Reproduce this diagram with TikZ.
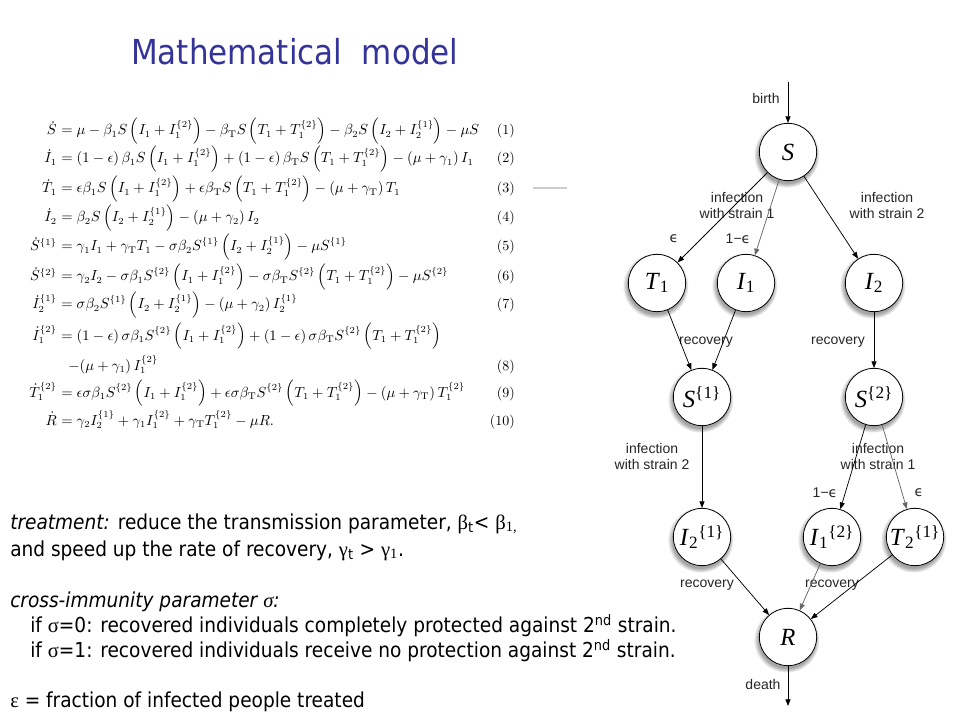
\documentclass[tikz,border=0pt]{standalone}
\usepackage{amsmath}
\usepackage{fontspec}
\usetikzlibrary{arrows.meta,shadows,fadings}
\newfontfamily\tahoma[FakeStretch=0.9]{DejaVu Sans}
\newfontfamily\helv{Liberation Sans}
\newfontfamily\tms{Liberation Serif}
\newfontfamily\dvs{DejaVu Sans}
\definecolor{titleblue}{RGB}{51,51,153}
\definecolor{rulegray}{RGB}{205,205,205}
\tikzset{
  state/.style={circle, draw, line width=0.6pt, fill=white, minimum size=43pt, inner sep=0pt,
    circular drop shadow={shadow xshift=-1pt, shadow yshift=-1.8pt, shadow scale=1.15, opacity=0.7},
    font=\tms\fontsize{18.5}{20}\selectfont},
  flow/.style={line width=0.55pt, -{Triangle[length=5pt,width=3.8pt]}},
  lab/.style={font=\helv\fontsize{10.5}{12}\selectfont, align=center, text=black!85, inner sep=0pt},
  eqs/.style={font=\fontsize{10.5}{12}\selectfont, inner sep=0pt},
  body/.style={font=\tahoma\fontsize{15.45}{20}\selectfont, inner sep=0pt, anchor=base west}
}
\newcommand{\eps}{{\dvs ϵ}}
\begin{document}
\begin{tikzpicture}[x=0.75pt,y=-0.75pt]
\fill[white] (0,0) rectangle (960,720);
\useasboundingbox (0,0) rectangle (960,720);

% title
\node[font=\tahoma\fontsize{25.8}{30}\selectfont, text=titleblue, anchor=base west, inner sep=0pt] (title) at (131,65) {Mathematical\ \ model};

% equations
\node[eqs, anchor=base east] (e1l) at (57,135) {$\dot S$};
\node[eqs, anchor=base west] (e1r) at (57,135) {$\displaystyle {}=\mu-\beta_1 S\left(I_1+I_1^{\{2\}}\right)-\beta_{\mathrm{T}} S\left(T_1+T_1^{\{2\}}\right)-\beta_2 S\left(I_2+I_2^{\{1\}}\right)-\mu S$};
\node[eqs, anchor=base east] (n1) at (515,135) {(1)};

\node[eqs, anchor=base east] (e2l) at (57,163) {$\dot I_1$};
\node[eqs, anchor=base west] (e2r) at (57,163) {$\displaystyle {}=(1-\epsilon)\,\beta_1 S\left(I_1+I_1^{\{2\}}\right)+(1-\epsilon)\,\beta_{\mathrm{T}} S\left(T_1+T_1^{\{2\}}\right)-(\mu+\gamma_1)\,I_1$};
\node[eqs, anchor=base east] (n2) at (515,163) {(2)};

\node[eqs, anchor=base east] (e3l) at (57,193) {$\dot T_1$};
\node[eqs, anchor=base west] (e3r) at (57,193) {$\displaystyle {}=\epsilon\beta_1 S\left(I_1+I_1^{\{2\}}\right)+\epsilon\beta_{\mathrm{T}} S\left(T_1+T_1^{\{2\}}\right)-(\mu+\gamma_{\mathrm{T}})\,T_1$};
\node[eqs, anchor=base east] (n3) at (515,193) {(3)};

\node[eqs, anchor=base east] (e4l) at (57,222) {$\dot I_2$};
\node[eqs, anchor=base west] (e4r) at (57,222) {$\displaystyle {}=\beta_2 S\left(I_2+I_2^{\{1\}}\right)-(\mu+\gamma_2)\,I_2$};
\node[eqs, anchor=base east] (n4) at (515,222) {(4)};

\node[eqs, anchor=base east] (e5l) at (57,251) {$\dot S^{\{1\}}$};
\node[eqs, anchor=base west] (e5r) at (57,251) {$\displaystyle {}=\gamma_1 I_1+\gamma_{\mathrm{T}}T_1-\sigma\beta_2 S^{\{1\}}\left(I_2+I_2^{\{1\}}\right)-\mu S^{\{1\}}$};
\node[eqs, anchor=base east] (n5) at (515,251) {(5)};

\node[eqs, anchor=base east] (e6l) at (57,281) {$\dot S^{\{2\}}$};
\node[eqs, anchor=base west] (e6r) at (57,281) {$\displaystyle {}=\gamma_2 I_2-\sigma\beta_1 S^{\{2\}}\left(I_1+I_1^{\{2\}}\right)-\sigma\beta_{\mathrm{T}} S^{\{2\}}\left(T_1+T_1^{\{2\}}\right)-\mu S^{\{2\}}$};
\node[eqs, anchor=base east] (n6) at (515,281) {(6)};

\node[eqs, anchor=base east] (e7l) at (57,309) {$\dot I_2^{\{1\}}$};
\node[eqs, anchor=base west] (e7r) at (57,309) {$\displaystyle {}=\sigma\beta_2 S^{\{1\}}\left(I_2+I_2^{\{1\}}\right)-(\mu+\gamma_2)\,I_2^{\{1\}}$};
\node[eqs, anchor=base east] (n7) at (515,309) {(7)};

\node[eqs, anchor=base east] (e8l) at (57,340) {$\dot I_1^{\{2\}}$};
\node[eqs, anchor=base west] (e8r) at (57,340) {$\displaystyle {}=(1-\epsilon)\,\sigma\beta_1 S^{\{2\}}\left(I_1+I_1^{\{2\}}\right)+(1-\epsilon)\,\sigma\beta_{\mathrm{T}} S^{\{2\}}\left(T_1+T_1^{\{2\}}\right)$};
\node[eqs, anchor=base west] (e8b) at (68,370) {$\displaystyle -(\mu+\gamma_1)\,I_1^{\{2\}}$};
\node[eqs, anchor=base east] (n8) at (515,370) {(8)};

\node[eqs, anchor=base east] (e9l) at (57,397) {$\dot T_1^{\{2\}}$};
\node[eqs, anchor=base west] (e9r) at (57,397) {$\displaystyle {}=\epsilon\sigma\beta_1 S^{\{2\}}\left(I_1+I_1^{\{2\}}\right)+\epsilon\sigma\beta_{\mathrm{T}} S^{\{2\}}\left(T_1+T_1^{\{2\}}\right)-(\mu+\gamma_{\mathrm{T}})\,T_1^{\{2\}}$};
\node[eqs, anchor=base east] (n9) at (515,397) {(9)};

\node[eqs, anchor=base east] (e10l) at (57,425) {$\dot R$};
\node[eqs, anchor=base west] (e10r) at (57,425) {$\displaystyle {}=\gamma_2 I_2^{\{1\}}+\gamma_1 I_1^{\{2\}}+\gamma_{\mathrm{T}}T_1^{\{2\}}-\mu R.$};
\node[eqs, anchor=base east] (n10) at (515,425) {(10)};

% grey rule
\coordinate (g1) at (533,188);
\coordinate (g2) at (567,188);
\draw[rulegray, line width=2.2pt] (g1) -- (g2);

% bottom text
\node[body] (t1) at (10,529) {\textit{treatment:} reduce the transmission parameter, {\tms β}\textsubscript{t}< {\tms β}\textsubscript{\tms 1,}};
\node[body] (t2) at (10,556) {and speed up the rate of recovery, {\tms γ}\textsubscript{t} > {\tms γ}\textsubscript{\tms 1}.};
\node[body] (t3) at (10,607) {\textit{cross-immunity parameter {\tms\itshape σ}:}};
\node[body] (t4) at (30,632) {if {\tms σ}=0: recovered individuals completely protected against 2\textsuperscript{nd} strain.};
\node[body] (t5) at (30,657) {if {\tms σ}=1: recovered individuals receive no protection against 2\textsuperscript{nd} strain.};
\node[body] (t6) at (10,707) {{\tms ε} = fraction of infected people treated};

% diagram nodes
\node[state] (S) at (788,152) {\textit{S}};
\node[state] (T1) at (657,283) {\textit{T}\textsubscript{1}};
\node[state] (I1) at (746,283) {\textit{I}\textsubscript{1}};
\node[state] (I2) at (874,283) {\textit{I}\textsubscript{2}};
\node[state] (S1) at (702,397) {\textit{S}\textsuperscript{\{1\}}};
\node[state] (S2) at (874,397) {\textit{S}\textsuperscript{\{2\}}};
\node[state] (I21) at (702,537) {\textit{I}\textsubscript{2}\textsuperscript{\{1\}}};
\node[state] (I12) at (832,537) {\textit{I}\textsubscript{1}\textsuperscript{\{2\}}};
\node[state] (T21) at (915,537) {\textit{T}\textsubscript{2}\textsuperscript{\{1\}}};
\node[state] (R) at (788,637) {\textit{R}};
\coordinate (birth) at (788,82);
\coordinate (death) at (788,706);

% labels
\node[lab] (lbirth) at (766,98) {birth};
\node[lab] (linf1) at (737,205) {infection\\with strain 1};
\node[lab] (linf2) at (887,205) {infection\\with strain 2};
\node[lab] (leps1) at (674,239) {\eps};
\node[lab] (leps2) at (738,239) {1−\eps};
\node[lab] (lrec1) at (706,342) {recovery};
\node[lab] (lrec2) at (838,342) {recovery};
\node[lab] (linf3) at (652,456) {infection\\with strain 2};
\node[lab] (linf4) at (878,456) {infection\\with strain 1};
\node[lab] (leps3) at (825,493) {1−\eps};
\node[lab] (leps4) at (919,493) {\eps};
\node[lab] (lrec3) at (707,585) {recovery};
\node[lab] (lrec4) at (832,585) {recovery};
\node[lab] (ldeath) at (763,684) {death};

% connectors
\draw[flow] (birth) -- (S);
\draw[flow] (S) -- (T1);
\draw[flow, black!60] (S) -- (I1);
\draw[flow] (S) -- (I2);
\draw[flow] (T1) -- (S1);
\draw[flow] (I1) -- (S1);
\draw[flow] (I2) -- (S2);
\draw[flow] (S1) -- (I21);
\draw[flow] (S2) -- (I12);
\draw[flow, black!60] (S2) -- (T21);
\draw[flow] (I21) -- (R);
\draw[flow, black!60] (I12) -- (R);
\draw[flow] (T21) -- (R);
\draw[flow] (R) -- (death);
\end{tikzpicture}
\end{document}
